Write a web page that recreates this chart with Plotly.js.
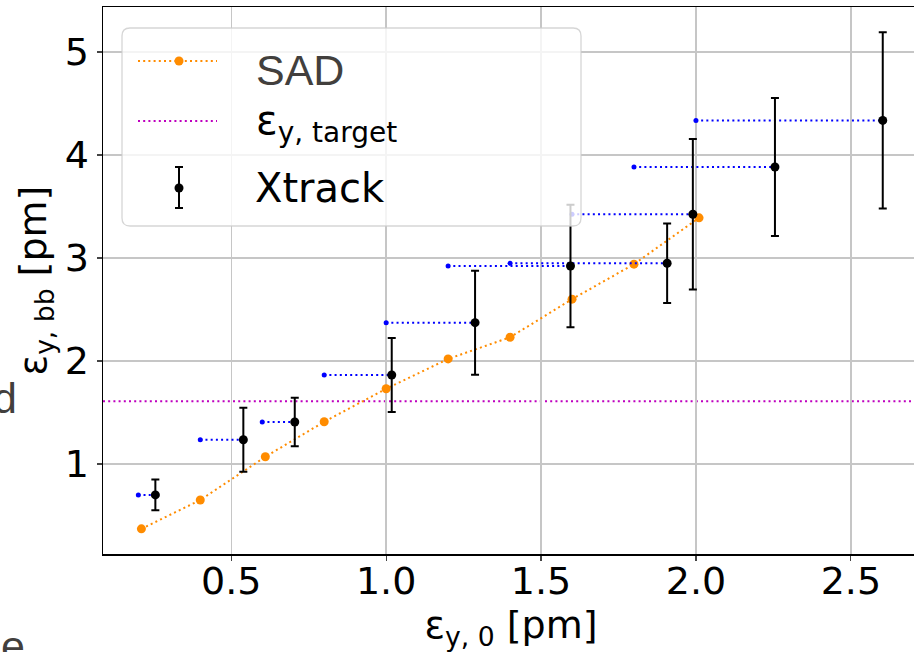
<!DOCTYPE html>
<html><head><meta charset="utf-8">
<script src="https://cdn.plot.ly/plotly-3.0.1.min.js"></script>
<style>html,body{margin:0;padding:0;overflow:hidden;background:#fff}#chart{width:930px;height:652px}</style>
</head><body><div id="chart"></div>
<script>
// ---- data ----
const sadX = [0.21, 0.40, 0.61, 0.80, 1.00, 1.20, 1.40, 1.60, 1.80, 2.01];
const sadY = [0.37, 0.65, 1.07, 1.41, 1.73, 2.02, 2.23, 2.60, 2.94, 3.39];
const xtrackX0 = [0.2, 0.4, 0.6, 0.8, 1.0, 1.2, 1.4, 1.6, 1.8, 2.0];
const xtrackX = [0.255, 0.539, 0.705, 1.018, 1.287, 1.595, 1.907, 1.990, 2.255, 2.603];
const xtrackY = [0.70, 1.235, 1.408, 1.864, 2.372, 2.922, 2.949, 3.425, 3.883, 4.336];
const xtrackErr = [0.15, 0.31, 0.235, 0.36, 0.505, 0.595, 0.385, 0.73, 0.67, 0.855];
const targetY = [1.61];
const seriesNames = ['SAD', 'ε<sub>y, target</sub>', 'Xtrack'];
const xTickVals = [0.5, 1.0, 1.5, 2.0, 2.5];
const xTickText = ['0.5', '1.0', '1.5', '2.0', '2.5'];
const yTickVals = [1, 2, 3, 4, 5];
const yTickText = ['1', '2', '3', '4', '5'];
const xTitle = 'ε<sub>y, 0</sub> [pm]';
const yTitle = 'ε<sub>y, bb</sub> [pm]';
const strayTexts = ['d', 'e'];

// ---- geometry ----
const W = 930, H = 652;
const M = {l: 103, r: 11, t: 7, b: 98};
const PW = W - M.l - M.r, PH = H - M.t - M.b;
const px = v => (v - M.l) / PW;
const py = v => (H - M.b - v) / PH;
const DJ = 'DejaVu Sans';
const LIB = 'Liberation Sans, Arial, sans-serif';
const ORANGE = '#ff8c00', BLUE = '#0000ff', MAG = '#bf00bf';

const segX = [], segY = [];
for (let i = 0; i < xtrackX.length; i++) {
  segX.push(xtrackX0[i], xtrackX[i], null);
  segY.push(xtrackY[i], xtrackY[i], null);
}

const traces = [
  {x: sadX, y: sadY, mode: 'lines+markers', name: seriesNames[0],
   line: {color: ORANGE, width: 2, dash: '2px,3.2px'},
   marker: {color: ORANGE, size: 9}},
  {x: segX, y: segY, mode: 'lines', showlegend: false,
   line: {color: BLUE, width: 2, dash: '2px,3.2px'}},
  {x: xtrackX0, y: xtrackY, mode: 'markers', showlegend: false,
   marker: {color: BLUE, size: 5}},
  {x: xtrackX, y: xtrackY, mode: 'markers', name: seriesNames[2],
   marker: {color: '#000', size: 9},
   error_y: {type: 'data', array: xtrackErr, visible: true, color: '#000', thickness: 2, width: 4}}
];

function circ(cx, cy, r, color) {
  return {type: 'circle', xref: 'paper', yref: 'paper', layer: 'above',
    x0: px(cx - r), x1: px(cx + r), y0: py(cy + r), y1: py(cy - r),
    fillcolor: color, line: {width: 0}};
}
function seg(x0, y0, x1, y1, color, width, dash) {
  return {type: 'line', xref: 'paper', yref: 'paper', layer: 'above',
    x0: px(x0), x1: px(x1), y0: py(y0), y1: py(y1),
    line: {color: color, width: width, dash: dash || 'solid'}};
}
const bx0 = 122, by0 = 28, bx1 = 581, by1 = 226, rr = 8;
const boxPath = 'M' + px(bx0 + rr) + ',' + py(by0) +
  ' L' + px(bx1 - rr) + ',' + py(by0) +
  ' Q' + px(bx1) + ',' + py(by0) + ' ' + px(bx1) + ',' + py(by0 + rr) +
  ' L' + px(bx1) + ',' + py(by1 - rr) +
  ' Q' + px(bx1) + ',' + py(by1) + ' ' + px(bx1 - rr) + ',' + py(by1) +
  ' L' + px(bx0 + rr) + ',' + py(by1) +
  ' Q' + px(bx0) + ',' + py(by1) + ' ' + px(bx0) + ',' + py(by1 - rr) +
  ' L' + px(bx0) + ',' + py(by0 + rr) +
  ' Q' + px(bx0) + ',' + py(by0) + ' ' + px(bx0 + rr) + ',' + py(by0) + ' Z';

const shapes = [
  {type: 'line', xref: 'paper', yref: 'y', x0: 0, x1: 1, y0: targetY[0], y1: targetY[0],
   layer: 'between', line: {color: MAG, width: 2, dash: '2px,3.2px'}},
  {type: 'path', xref: 'paper', yref: 'paper', layer: 'above', path: boxPath,
   fillcolor: 'rgba(255,255,255,0.8)', line: {color: 'rgba(204,204,204,0.8)', width: 1.3}},
  seg(138, 61, 217, 61, ORANGE, 2, '2px,3.2px'),
  circ(179, 61, 4.5, ORANGE),
  seg(138, 121, 217, 121, MAG, 2, '2px,3.2px'),
  seg(179, 167, 179, 208, '#000', 2),
  seg(175, 167, 183, 167, '#000', 2),
  seg(175, 208, 183, 208, '#000', 2),
  circ(179, 188, 4.5, '#000')
];

const annotations = [
  {xref: 'paper', yref: 'paper', x: px(254), y: py(70), xanchor: 'left', yanchor: 'middle',
   text: seriesNames[0], showarrow: false, font: {family: LIB, size: 43, color: '#423f3d'}},
  {xref: 'paper', yref: 'paper', x: px(254), y: py(123), xanchor: 'left', yanchor: 'middle',
   text: seriesNames[1], showarrow: false, font: {family: DJ, size: 40, color: '#000'}},
  {xref: 'paper', yref: 'paper', x: px(253), y: py(188), xanchor: 'left', yanchor: 'middle',
   text: seriesNames[2], showarrow: false, font: {family: DJ, size: 40, color: '#000'}},
  {xref: 'paper', yref: 'paper', x: px(19), y: py(398), xanchor: 'right', yanchor: 'middle',
   text: strayTexts[0], showarrow: false, font: {family: LIB, size: 43, color: '#423f3d'}},
  {xref: 'paper', yref: 'paper', x: px(-1), y: py(646), xanchor: 'left', yanchor: 'middle',
   text: strayTexts[1], showarrow: false, font: {family: LIB, size: 43, color: '#423f3d'}}
];

const axisCommon = {
  showline: true, linecolor: '#000', linewidth: 1.5, mirror: true,
  showgrid: true, gridcolor: '#c6c6c6', gridwidth: 1.5,
  ticks: 'outside', ticklen: 5, tickwidth: 1.2, tickcolor: '#444',
  zeroline: false, tickfont: {family: DJ, size: 38, color: '#000'},
  automargin: false, fixedrange: true
};

const layout = {
  width: W, height: H, margin: M,
  paper_bgcolor: '#fff', plot_bgcolor: '#fff',
  showlegend: false,
  font: {family: DJ, color: '#000'},
  xaxis: Object.assign({}, axisCommon, {
    range: [0.086, 2.72], tickmode: 'array', tickvals: xTickVals, ticktext: xTickText,
    ticklabelstandoff: -12,
    title: {text: xTitle, font: {family: DJ, size: 38, color: '#000'}, standoff: 18}
  }),
  yaxis: Object.assign({}, axisCommon, {
    range: [0.126, 5.437], tickmode: 'array', tickvals: yTickVals, ticktext: yTickText,
    title: {text: yTitle, font: {family: DJ, size: 38, color: '#000'}, standoff: 6}
  }),
  shapes: shapes,
  annotations: annotations
};

Plotly.newPlot('chart', traces, layout, {displayModeBar: false, staticPlot: true});
</script>
</body></html>
